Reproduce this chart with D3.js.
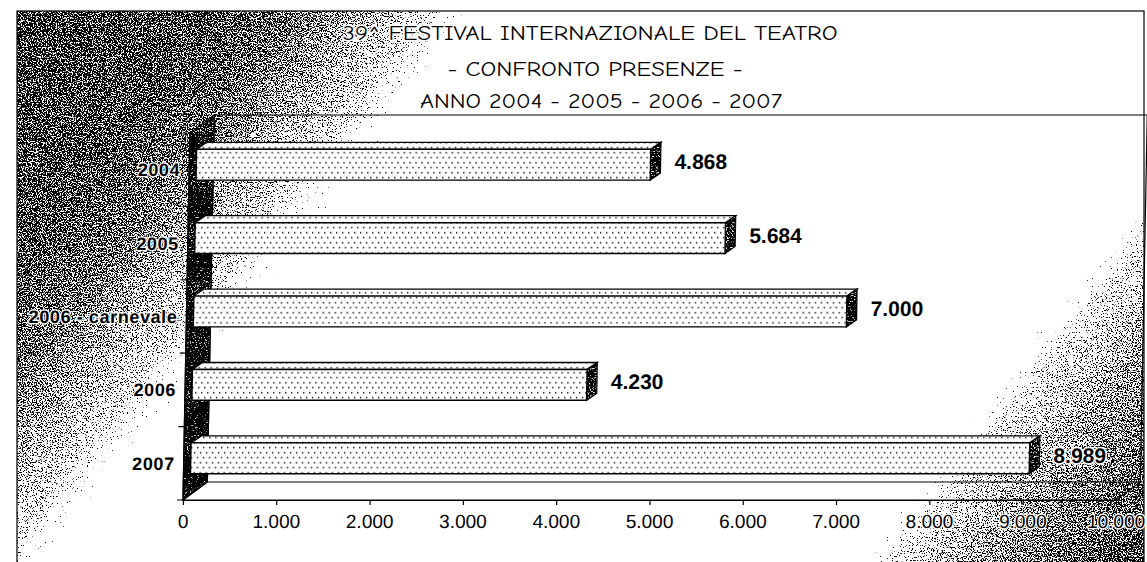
<!DOCTYPE html>
<html><head><meta charset="utf-8">
<script src="https://cdn.jsdelivr.net/npm/d3@7"></script>
<style>body{margin:0;background:#fff}svg{display:block}</style>
</head><body>
<svg id="chart" width="1147" height="562"></svg>
<script>
// ---- data ----
const categories = ["2004", "2005", "2006 - carnevale", "2006", "2007"];
const values = [4868, 5684, 7000, 4230, 8989];
const tickValues = [0, 1000, 2000, 3000, 4000, 5000, 6000, 7000, 8000, 9000, 10000];
const tickLabels = ["0", "1.000", "2.000", "3.000", "4.000", "5.000", "6.000", "7.000", "8.000", "9.000", "10.000"];
const titleLines = ["39^ FESTIVAL INTERNAZIONALE DEL TEATRO", "- CONFRONTO PRESENZE -", "ANNO 2004 - 2005 - 2006 - 2007"];

// ---- layout ----
const W = 1147, H = 562;
const svg = d3.select("#chart");
const it = d3.formatLocale({decimal: ",", thousands: ".", grouping: [3], currency: ["€", ""]});
const fmt = it.format(",d");

const plot = {x0: 183, x1: 1116, top: 133, bottom: 500};
const depth = {dx: 24, dy: -18};
const barOff = {dx: 7, dy: -5};
const barDepth = {dx: 10, dy: -7};

const x = d3.scaleLinear().domain([0, 10000]).range([plot.x0, plot.x1]);
const y = d3.scaleBand().domain(categories).range([plot.top, plot.bottom]).padding(0);
const barH = y.bandwidth() * 0.42;

const defs = svg.append("defs");
const grad = defs.append("linearGradient").attr("id", "bgGrad")
  .attr("gradientUnits", "userSpaceOnUse").attr("x1", 0).attr("y1", 0).attr("x2", 1147).attr("y2", 900);
[[0, 0.6], [0.12, 0.58], [0.17, 0.54], [0.2, 0.48], [0.235, 0.4], [0.28, 0.05],
 [0.69, 0.05], [0.72, 0.38], [0.77, 0.5], [0.83, 0.57], [0.86, 0.6]]
  .forEach(([o, a]) => grad.append("stop").attr("offset", o).attr("stop-color", "#000").attr("stop-opacity", a));

const f = defs.append("filter").attr("id", "speckle").attr("filterUnits", "userSpaceOnUse")
  .attr("x", -60).attr("y", -60).attr("width", 1280).attr("height", 720)
  .attr("color-interpolation-filters", "sRGB");
f.append("feTurbulence").attr("type", "fractalNoise").attr("baseFrequency", 0.8).attr("numOctaves", 2).attr("seed", 7).attr("result", "n");
f.append("feColorMatrix").attr("in", "n").attr("type", "matrix")
  .attr("values", "0 0 0 0 0  0 0 0 0 0  0 0 0 0 0  1 0 0 0 0").attr("result", "na");
f.append("feComposite").attr("in", "SourceAlpha").attr("in2", "na").attr("operator", "arithmetic")
  .attr("k1", 0).attr("k2", 1).attr("k3", -1).attr("k4", 0).attr("result", "d");
f.append("feComponentTransfer").attr("in", "d").append("feFuncA").attr("type", "linear").attr("slope", 18).attr("intercept", 0);

const pat = defs.append("pattern").attr("id", "dots").attr("patternUnits", "userSpaceOnUse").attr("width", 6).attr("height", 10);
pat.append("rect").attr("width", 6).attr("height", 10).attr("fill", "#fff");
pat.append("rect").attr("x", 1).attr("y", 2).attr("width", 1.4).attr("height", 1.4).attr("fill", "#000");
pat.append("rect").attr("x", 4).attr("y", 7).attr("width", 1.4).attr("height", 1.4).attr("fill", "#000");

defs.append("clipPath").attr("id", "frameClip").append("rect")
  .attr("x", 17).attr("y", 11).attr("width", 1127).attr("height", 600);

// background
svg.append("rect").attr("width", W).attr("height", H).attr("fill", "#fff");
svg.append("rect").attr("x", 17).attr("y", 11).attr("width", 1127).attr("height", 600)
  .attr("fill", "url(#bgGrad)").attr("filter", "url(#speckle)").attr("clip-path", "url(#frameClip)");
svg.append("rect").attr("x", 17).attr("y", 11).attr("width", 1127).attr("height", 600)
  .attr("fill", "none").attr("stroke", "#000").attr("stroke-width", 1.2);

// title
const titleFont = "'Comic Sans MS', 'Comic Neue', 'DejaVu Sans', sans-serif";
const titleSpecs = [{cx: 590, w: 495, base: 40}, {cx: 595, w: 295, base: 76}, {cx: 601, w: 362, base: 108}];
svg.append("g").selectAll("text").data(titleLines).join("text")
  .attr("x", (d, i) => titleSpecs[i].cx).attr("y", (d, i) => titleSpecs[i].base)
  .attr("text-anchor", "middle").attr("font-family", titleFont).attr("font-size", 20)
  .attr("textLength", (d, i) => titleSpecs[i].w).attr("lengthAdjust", "spacingAndGlyphs")
  .attr("stroke", "#fff").attr("stroke-width", 3).attr("paint-order", "stroke")
  .attr("fill", "#000").text(d => d);

// plot group with slight skew (scan distortion)
const g = svg.append("g").attr("transform", `translate(0,${plot.bottom}) skewX(-1.08) translate(0,${-plot.bottom})`);

const P = pts => "M" + pts.map(p => p.join(",")).join("L") + "Z";
const bx0 = plot.x0 + depth.dx, by0 = plot.top + depth.dy, by1 = plot.bottom + depth.dy, bx1 = plot.x1 + depth.dx;

// back wall outline
g.append("path").attr("d", `M${bx0},${by1}L${bx0},${by0}L${bx1},${by0}L${bx1},${by1}`)
  .attr("fill", "none").attr("stroke", "#000").attr("stroke-width", 1.2);
// bottom plane
g.append("path").attr("d", P([[plot.x0, plot.bottom], [plot.x1, plot.bottom], [bx1, by1], [bx0, by1]]))
  .attr("fill", "none").attr("stroke", "#000").attr("stroke-width", 1.2);
// left wall
const wallPts = [[plot.x0, plot.top], [bx0, by0], [bx0, by1], [plot.x0, plot.bottom]];
g.append("path").attr("d", P(wallPts)).attr("fill", "#fff");
g.append("path").attr("d", P(wallPts)).attr("fill", "#000").attr("fill-opacity", 0.62).attr("filter", "url(#speckle)");
g.append("path").attr("d", P(wallPts)).attr("fill", "none").attr("stroke", "#000").attr("stroke-width", 1.3);

// bars
const bars = g.append("g").selectAll("g").data(categories.map((c, i) => ({c, v: values[i]}))).join("g");
bars.each(function(d) {
  const s = d3.select(this);
  const cy = y(d.c) + y.bandwidth() / 2 + barOff.dy;
  const xl = x(0) + barOff.dx, xr = x(d.v) + barOff.dx;
  const yt = cy - barH / 2, yb = cy + barH / 2;
  const top = [[xl, yt], [xr, yt], [xr + barDepth.dx, yt + barDepth.dy], [xl + barDepth.dx, yt + barDepth.dy]];
  const cap = [[xr, yt], [xr + barDepth.dx, yt + barDepth.dy], [xr + barDepth.dx, yb + barDepth.dy], [xr, yb]];
  s.append("path").attr("d", P(top)).attr("fill", "url(#dots)").attr("stroke", "#000").attr("stroke-width", 1.3);
  s.append("path").attr("d", P(cap)).attr("fill", "#fff");
  s.append("path").attr("d", P(cap)).attr("fill", "#000").attr("fill-opacity", 0.6).attr("filter", "url(#speckle)");
  s.append("path").attr("d", P(cap)).attr("fill", "none").attr("stroke", "#000").attr("stroke-width", 1.3);
  s.append("rect").attr("x", xl).attr("y", yt).attr("width", xr - xl).attr("height", barH)
    .attr("fill", "url(#dots)").attr("stroke", "#000").attr("stroke-width", 1.4);
  s.append("text").attr("x", xr + 24).attr("y", cy - 3).attr("dy", "0.36em")
    .attr("font-family", "'Liberation Sans', Arial, sans-serif").attr("font-weight", "bold").attr("font-size", 21)
    .attr("stroke", "#fff").attr("stroke-width", 3).attr("paint-order", "stroke").attr("fill", "#000")
    .text(fmt(d.v));
});

// category axis ticks and labels
const boundaries = categories.map(c => y(c)).concat([plot.bottom]);
g.append("g").selectAll("line").data(boundaries).join("line")
  .attr("x1", plot.x0 - 6).attr("x2", plot.x0).attr("y1", d => d).attr("y2", d => d)
  .attr("stroke", "#000").attr("stroke-width", 1.2);
g.append("path").attr("d", `M${plot.x0},${plot.top}L${plot.x0},${plot.bottom}`).attr("stroke", "#000").attr("stroke-width", 1.2);
g.append("g").selectAll("text").data(categories).join("text")
  .attr("x", 174).attr("y", d => y(d) + y.bandwidth() / 2).attr("dy", "0.36em")
  .attr("text-anchor", "end").attr("font-family", "'Liberation Sans', Arial, sans-serif")
  .attr("font-weight", "bold").attr("font-size", 18).attr("letter-spacing", 0.6)
  .attr("stroke", "#fff").attr("stroke-width", 2.5).attr("paint-order", "stroke").attr("fill", "#000")
  .text(d => d);

// value axis
const ax = g.append("g").attr("transform", `translate(0,${plot.bottom})`)
  .call(d3.axisBottom(x).tickValues(tickValues).tickFormat((d, i) => tickLabels[i]).tickSize(5).tickSizeOuter(0).tickPadding(10));
ax.select(".domain").attr("stroke", "#000").attr("stroke-width", 1.2);
ax.selectAll(".tick line").attr("stroke", "#000").attr("stroke-width", 1.2);
ax.selectAll(".tick text").attr("font-family", "'Liberation Sans', Arial, sans-serif").attr("font-size", 19)
  .attr("fill", "#000").attr("stroke", "#fff").attr("stroke-width", 2.5).attr("paint-order", "stroke");
</script>
</body></html>
